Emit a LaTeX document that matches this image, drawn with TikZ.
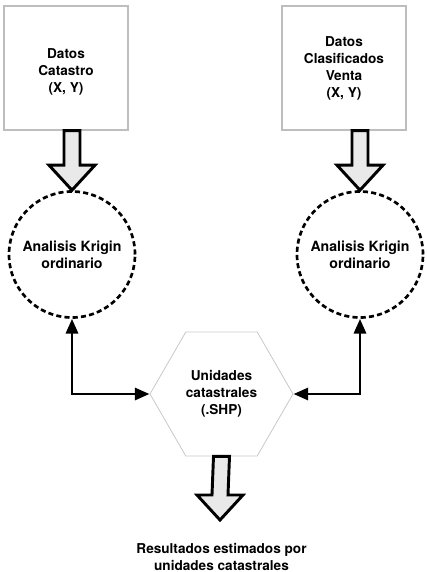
\documentclass[tikz,border=0pt]{standalone}
\usepackage{fontspec}
\setmainfont{TeX Gyre Heros}
\usetikzlibrary{shapes.geometric}
\usetikzlibrary{arrows.meta}
\usetikzlibrary{calc}

\tikzset{
  databox/.style={draw={rgb, 255:red, 190; green, 190; blue, 190}, line width=0.8pt,
    minimum width=93pt, minimum height=93pt, align=center,
    font=\bfseries\fontsize{10.2}{12.75}\selectfont},
  krigin/.style={circle, draw, line width=2pt, dash pattern=on 3.8pt off 2.4pt,
    minimum size=94.5pt, align=center, font=\bfseries\fontsize{10.6}{12.75}\selectfont},
  hexa/.style={regular polygon, regular polygon sides=6, draw={rgb, 255:red, 200; green, 200; blue, 200},
    line width=0.6pt, minimum size=107.25pt, align=center,
    font=\bfseries\fontsize{10.2}{12.75}\selectfont},
  bigarrow/.style={draw, line width=2.2pt, fill={rgb, 255:red, 233; green, 233; blue, 233}, line join=miter},
  link/.style={line width=2.2pt, {Triangle[length=11pt,width=9pt]}-{Triangle[length=11pt,width=9pt]}},
}

\begin{document}
\begin{tikzpicture}[x=0.75pt,y=0.75pt,yscale=-1,xscale=1]

    %set diagram size
    \useasboundingbox (0,0) rectangle (427,572);

    %Shape: Rectangle
    \node[databox] (catastro) at (66,68) {\rule{0pt}{14pt}Datos\\Catastro\\(X, Y)};
    %Shape: Rectangle
    \node[databox] (venta) at (344,68) {Datos\\Clasificados\\Venta\\(X, Y)};
    %Shape: Circle
    \node[krigin] (krigA) at (72,254.5) {Analisis Krigin\\ordinario};
    %Shape: Circle
    \node[krigin] (krigB) at (360,254.5) {Analisis Krigin\\ordinario};
    %Shape: Hexagon
    \node[hexa] (unidades) at (221.5,394) {Unidades\\catastrales\\(.SHP)};
    %Text
    \node[font=\bfseries\fontsize{10.2}{12.2}\selectfont, align=center] (result) at (221.5,557) {Resultados estimados por\\unidades catastrales};
    \coordinate (resTip) at (220,520);

    %Block arrows
    \coordinate (topA) at (krigA.north |- catastro.south);
    \coordinate (topB) at (krigB.north |- venta.south);
    \draw[bigarrow] ($(topA)+(-8,0)$) -- ($(krigA.north)+(-8,-25)$) -- ($(krigA.north)+(-23,-25)$) -- (krigA.north) -- ($(krigA.north)+(23,-25)$) -- ($(krigA.north)+(8,-25)$) -- ($(topA)+(8,0)$) -- cycle ;
    \draw[bigarrow] ($(topB)+(-8,0)$) -- ($(krigB.north)+(-8,-25)$) -- ($(krigB.north)+(-23,-25)$) -- (krigB.north) -- ($(krigB.north)+(23,-25)$) -- ($(krigB.north)+(8,-25)$) -- ($(topB)+(8,0)$) -- cycle ;
    \draw[bigarrow] ($(unidades.south)+(-8,0)$) -- ($(resTip)+(-8,-25)$) -- ($(resTip)+(-23,-25)$) -- (resTip) -- ($(resTip)+(23,-25)$) -- ($(resTip)+(8,-25)$) -- ($(unidades.south)+(8,0)$) -- cycle ;

    %Straight Lines
    \draw[link] (krigA.south) |- (unidades.west) ;
    %Straight Lines
    \draw[link] (krigB.south) |- (unidades.east) ;

\end{tikzpicture}
\end{document}
